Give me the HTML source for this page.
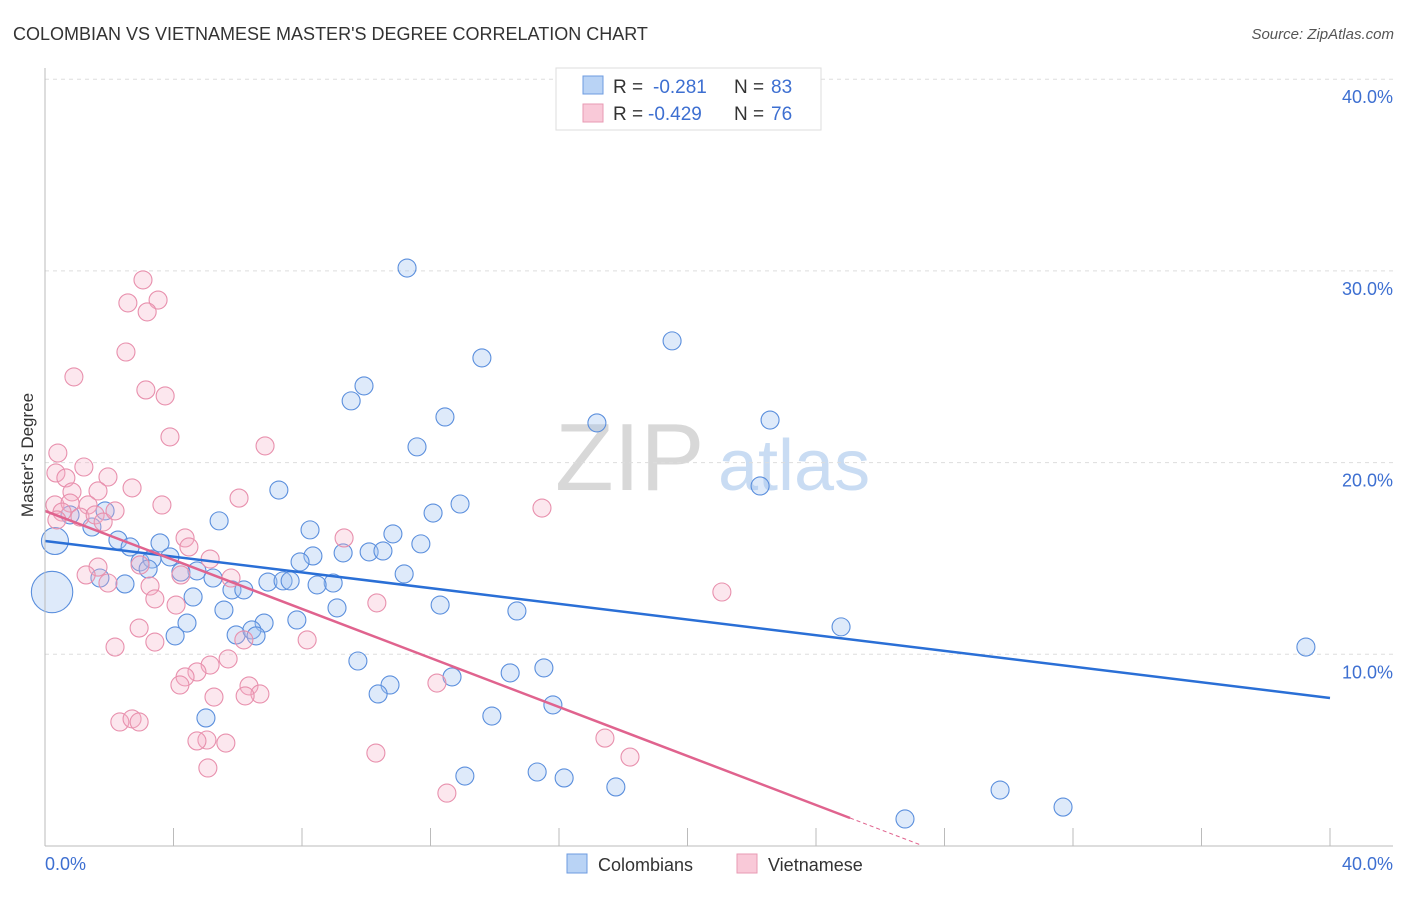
<!DOCTYPE html>
<html><head><meta charset="utf-8"><style>
body{margin:0;background:#fff;font-family:"Liberation Sans",sans-serif}
svg text{font-family:"Liberation Sans",sans-serif}
</style></head><body>
<svg id="chart" width="1406" height="892">
<text x="13" y="40" font-size="18" fill="#333">COLOMBIAN VS VIETNAMESE MASTER'S DEGREE CORRELATION CHART</text>
<text x="1394" y="39" font-size="15" fill="#555" font-style="italic" text-anchor="end">Source: ZipAtlas.com</text>
<g><text x="555" y="490" font-size="96" font-family="Liberation Serif,serif" fill="#d8d8d8">ZIP</text><text x="718" y="490" font-size="72" fill="#c9dcf3">atlas</text></g>
<g id="grid"></g><g id="pts"></g><g id="lines"></g>
<line x1="45" y1="68" x2="45" y2="846" stroke="#bbb"/>
<line x1="45" y1="846" x2="1393" y2="846" stroke="#bbb"/>
<text x="33" y="455" font-size="17" fill="#333" transform="rotate(-90 33 455)" text-anchor="middle">Master's Degree</text>
<text x="45" y="870" font-size="18" fill="#3d6fd1">0.0%</text>
<text x="1393" y="870" font-size="18" fill="#3d6fd1" text-anchor="end">40.0%</text>
<g>
<rect x="556" y="68" width="265" height="62" fill="#fff" stroke="#ddd"/>
<rect x="583" y="76" width="20" height="18" fill="#b9d3f5" stroke="#6d9be0"/>
<rect x="583" y="104" width="20" height="18" fill="#f9c9d8" stroke="#e89ab3"/>
<text x="613" y="93" font-size="19" fill="#333">R =</text><text x="653" y="93" font-size="19" fill="#3d6fd1">-0.281</text>
<text x="734" y="93" font-size="19" fill="#333">N =</text><text x="771" y="93" font-size="19" fill="#3d6fd1">83</text>
<text x="613" y="120" font-size="19" fill="#333">R =</text><text x="648" y="120" font-size="19" fill="#3d6fd1">-0.429</text>
<text x="734" y="120" font-size="19" fill="#333">N =</text><text x="771" y="120" font-size="19" fill="#3d6fd1">76</text>
</g>
<g>
<rect x="567" y="854" width="20" height="19" fill="#b9d3f5" stroke="#6d9be0"/>
<text x="598" y="871" font-size="18" fill="#333">Colombians</text>
<rect x="737" y="854" width="20" height="19" fill="#f9c9d8" stroke="#e89ab3"/>
<text x="768" y="871" font-size="18" fill="#333">Vietnamese</text>
</g>
</svg>
<script>
const yTicks=[10,20,30,40];
const yTickLabels=["10.0%","20.0%","30.0%","40.0%"];
const xTicks=[0,4,8,12,16,20,24,28,32,36,40];
const blueX=[11.27,19.52,13.60,9.93,9.53,12.45,22.57,17.18,11.58,22.26,7.28,12.92,12.08,5.42,8.25,10.83,1.87,1.46,0.78,0.31,11.70,2.27,2.65,3.58,8.34,9.28,10.09,10.52,7.94,2.96,3.33,3.89,4.73,4.23,3.21,5.23,6.94,7.41,7.63,11.18,8.97,8.47,1.71,2.49,5.82,6.19,4.61,12.30,9.09,5.57,14.69,6.82,7.84,4.42,4.05,5.95,6.44,6.57,24.78,39.25,9.74,15.53,14.48,12.67,10.74,10.37,15.81,5.01,13.91,13.07,15.32,16.16,17.77,29.73,31.69,26.77,0.22];
const blueY=[30.15,26.35,25.46,24.00,23.22,22.38,22.22,22.07,20.82,18.78,18.57,17.84,17.37,16.96,16.49,16.28,17.48,16.64,17.27,15.91,15.76,15.96,15.60,15.81,15.13,15.29,15.34,15.39,14.82,14.82,14.97,15.08,14.35,14.29,14.45,13.98,13.77,13.83,13.83,14.19,13.72,13.62,13.98,13.67,13.36,13.36,12.99,12.57,12.42,12.31,12.26,11.63,11.79,11.63,10.96,11.01,11.27,10.96,11.43,10.38,9.65,9.29,9.03,8.82,8.40,7.93,7.36,6.68,6.78,3.65,3.86,3.55,3.08,2.92,2.03,1.41,13.25];
const blueSize=[1,1,1,1,1,1,1,1,1,1,1,1,1,1,1,1,1,1,1,1.5,1,1,1,1,1,1,1,1,1,1,1,1,1,1,1,1,1,1,1,1,1,1,1,1,1,1,1,1,1,1,1,1,1,1,1,1,1,1,1,1,1,1,1,1,1,1,1,1,1,1,1,1,1,1,1,1,2.3];
const pinkX=[3.05,2.58,3.52,3.18,2.52,0.90,3.14,3.74,3.89,6.85,0.40,0.34,1.21,0.65,1.96,0.84,1.65,2.71,6.04,3.64,15.47,0.31,1.34,0.78,0.53,1.09,1.56,1.81,2.18,0.37,4.36,9.31,4.48,5.14,2.96,1.65,1.28,1.96,5.79,4.23,3.27,3.42,4.08,10.33,21.07,2.93,3.42,6.19,8.16,2.18,5.70,5.14,4.73,4.36,4.20,6.35,6.69,6.23,5.26,12.20,2.33,2.71,2.93,5.04,4.73,5.63,17.43,18.21,10.30,5.07,12.51];
const pinkY=[29.53,28.33,28.48,27.86,25.77,24.47,23.79,23.48,21.34,20.87,20.50,19.46,19.77,19.20,19.25,18.47,18.52,18.68,18.15,17.79,17.63,17.79,17.79,17.89,17.42,17.16,17.27,16.90,17.48,17.01,16.07,16.07,15.60,14.97,14.66,14.55,14.14,13.72,13.98,14.14,13.56,12.89,12.57,12.68,13.25,11.37,10.64,10.75,10.75,10.38,9.76,9.44,9.08,8.82,8.40,8.35,7.93,7.83,7.77,8.50,6.47,6.63,6.47,5.53,5.48,5.37,5.63,4.64,4.85,4.07,2.76];
const blueTrend=[15.91,7.72];
const pinkTrend=[17.48,1.46,25.06];
const NS="http://www.w3.org/2000/svg";
const sx=v=>45+v*(1285/40), sy=v=>846-v*19.17;
function mk(t,a,p){const e=document.createElementNS(NS,t);for(const k in a)e.setAttribute(k,a[k]);p.appendChild(e);return e;}
const grid=document.getElementById('grid'),pts=document.getElementById('pts'),lines=document.getElementById('lines');
yTicks.forEach((t,i)=>{
 const l=mk('line',{x1:45,x2:1393,y1:sy(t),y2:sy(t),stroke:'#ddd','stroke-dasharray':'4,4'},grid);
 
 
 const tx=mk('text',{x:1393,y:sy(t)+24,'font-size':18,fill:'#3d6fd1','text-anchor':'end'},grid);
 tx.textContent=yTickLabels[i];
 
 
});
xTicks.forEach(t=>{
 const l=mk('line',{x1:sx(t),x2:sx(t),y1:828,y2:846,stroke:'#bbb'},grid);
 
 
});
blueX.forEach((x,i)=>{
 const c=mk('circle',{cx:sx(x),cy:sy(blueY[i]),r:9*blueSize[i],fill:'rgba(160,195,240,0.35)',stroke:'#5b8fdd','stroke-width':1.1},pts);
 
 
});
pinkX.forEach((x,i)=>{
 const c=mk('circle',{cx:sx(x),cy:sy(pinkY[i]),r:9,fill:'rgba(245,175,198,0.3)',stroke:'#e890ad','stroke-width':1.1},pts);
 
 
});
const bl=mk('line',{x1:sx(0),y1:sy(blueTrend[0]),x2:sx(40),y2:sy(blueTrend[1]),stroke:'#2a6fd6','stroke-width':2.5},lines);


const pl=mk('line',{x1:sx(0),y1:sy(pinkTrend[0]),x2:sx(pinkTrend[2]),y2:sy(pinkTrend[1]),stroke:'#e0638e','stroke-width':2.5},lines);


const slope=(pinkTrend[1]-pinkTrend[0])/pinkTrend[2];
const xe=pinkTrend[2]+2.2;
const pd=mk('line',{x1:sx(pinkTrend[2]),y1:sy(pinkTrend[1]),x2:sx(xe),y2:sy(pinkTrend[0]+slope*xe),stroke:'#e0638e','stroke-width':1,'stroke-dasharray':'4,3'},lines);


</script>
</body></html>
